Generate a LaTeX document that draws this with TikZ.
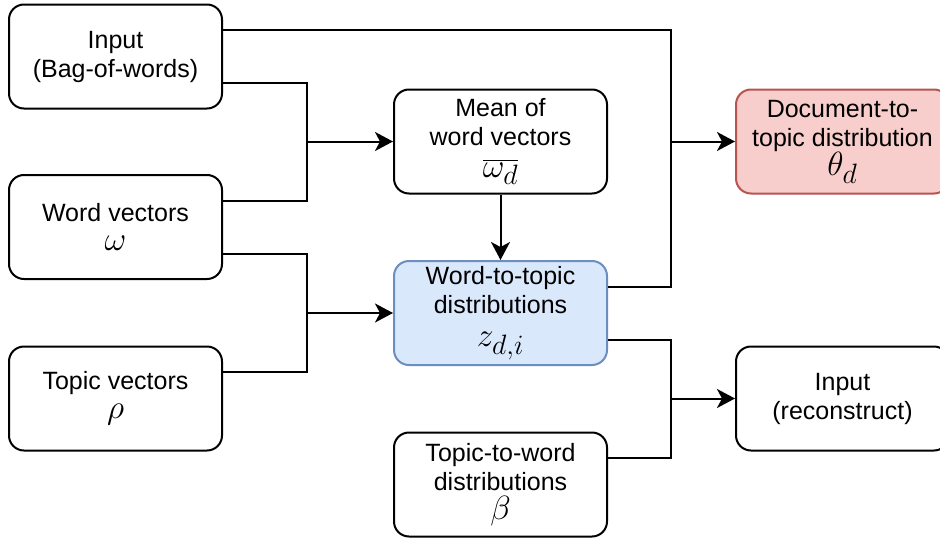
\documentclass[tikz,border=0pt]{standalone}
\usepackage{graphicx}
\usepackage{fontspec}
\setmainfont{Liberation Sans}
\usetikzlibrary{arrows.meta,calc}
\definecolor{bluefill}{HTML}{DAE8FC}
\definecolor{bluedraw}{HTML}{6C8EBF}
\definecolor{redfill}{HTML}{F8CECC}
\definecolor{reddraw}{HTML}{B85450}
\newcommand{\mth}[1]{{\fontsize{24.88}{30}\selectfont\scalebox{1.35}{$#1$}}}
\begin{document}
\begin{tikzpicture}[x=1pt,y=-1pt,
  box/.style={draw=black, fill=white, line width=2pt, rounded corners=15pt,
    minimum width=213pt, minimum height=104pt, align=center, inner sep=0pt,
    font=\fontsize{25}{29}\selectfont},
  bluebox/.style={box, draw=bluedraw, fill=bluefill},
  redbox/.style={box, draw=reddraw, fill=redfill},
  conn/.style={line width=2pt, draw=black},
  arr/.style={conn, -{Stealth[length=18pt,width=19pt,inset=5pt]}}
]
\clip (0,0) rectangle (940,541);
% nodes
\node[box] (in)   at (115.5,56.5)  {Input\\(Bag-of-words)};
\node[box] (wv)   at (115.5,227)   {Word vectors\\\mth{\omega}};
\node[box] (tv)   at (115.5,398.5) {Topic vectors\\\mth{\rho}};
\node[box] (mean) at (500.5,141.5) {Mean of\\word vectors\\[3pt]\mth{\overline{\omega_d}}};
\node[bluebox] (wt) at (500.5,313) {Word-to-topic\\distributions\\[4pt]\mth{z_{d,i}}};
\node[box] (tw)   at (500.5,484.5) {Topic-to-word\\distributions\\\mth{\beta}};
\node[redbox] (doc) at (842.5,141.5) {Document-to-\\topic distribution\\\mth{\theta_d}};
\node[box] (rec)  at (842.5,398.5) {Input\\(reconstruct)};
% exit points
\coordinate (inA) at ($(in.north east)!0.25!(in.south east)$);
\coordinate (inB) at ($(in.north east)!0.75!(in.south east)$);
\coordinate (wvA) at ($(wv.north east)!0.25!(wv.south east)$);
\coordinate (wvB) at ($(wv.north east)!0.75!(wv.south east)$);
\coordinate (tvA) at ($(tv.north east)!0.25!(tv.south east)$);
\coordinate (wtA) at ($(wt.north east)!0.25!(wt.south east)$);
\coordinate (wtB) at ($(wt.north east)!0.75!(wt.south east)$);
\coordinate (twA) at ($(tw.north east)!0.25!(tw.south east)$);
% junctions
\coordinate (jM) at ($(mean.west)+(-86,0)$);
\coordinate (jW) at ($(wt.west)+(-86,0)$);
\coordinate (jD) at ($(doc.west)+(-64,0)$);
\coordinate (jR) at ($(rec.west)+(-64,0)$);
% connectors
\draw[conn] (inA) -| (jD);
\draw[conn] (wtA) -| (jD);
\draw[arr] (jD) -- (doc.west);
\draw[conn] (inB) -| (jM);
\draw[conn] (wvA) -| (jM);
\draw[arr] (jM) -- (mean.west);
\draw[conn] (wvB) -| (jW);
\draw[conn] (tvA) -| (jW);
\draw[arr] (jW) -- (wt.west);
\draw[arr] (mean.south) -- (wt.north);
\draw[conn] (wtB) -| (jR);
\draw[conn] (twA) -| (jR);
\draw[arr] (jR) -- (rec.west);
\end{tikzpicture}
\end{document}
